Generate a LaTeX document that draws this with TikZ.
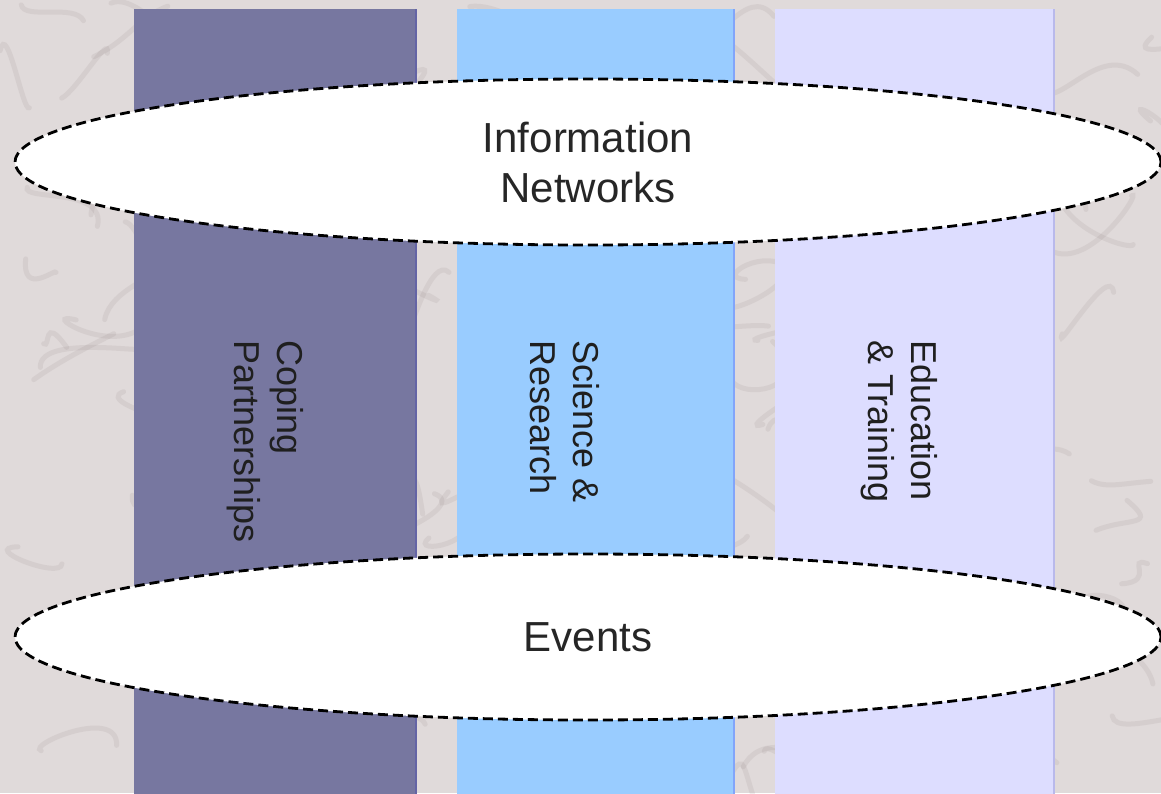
\documentclass[tikz,border=0pt]{standalone}
\usepackage{fontspec}
\setmainfont{Liberation Sans}
\usetikzlibrary{shapes, positioning}

\definecolor{marble}{RGB}{224,218,218}
\definecolor{vein}{RGB}{140,126,128}
\definecolor{coping}{RGB}{119,119,160}
\definecolor{copingedge}{RGB}{100,100,165}
\definecolor{science}{RGB}{153,204,255}
\definecolor{scienceedge}{RGB}{130,165,250}
\definecolor{education}{RGB}{221,221,255}
\definecolor{educationedge}{RGB}{185,185,235}

\tikzset{
  pillar/.style={anchor=north west, minimum height=800pt, inner sep=0pt, outer sep=0pt},
  pillartext/.style={anchor=west, rotate=-90, align=left, inner sep=0pt, text=black!88,
    font=\fontsize{36}{43}\selectfont},
  ring/.style={ellipse, draw=black, fill=white, line width=2.8pt, dash pattern=on 10pt off 5pt,
    minimum width=1146pt, minimum height=166pt, align=center, text=black!85,
    font=\fontsize{42}{50}\selectfont}
}

\begin{document}
\begin{tikzpicture}[x=1pt,y=-1pt]
        \useasboundingbox (0,0) rectangle (1161,793);
        \clip (0,0) rectangle (1161,793);
        % marble background
        \fill[marble] (0,0) rectangle (1161,793);
        \pgfmathsetseed{11}
        \foreach \i in {1,...,140} {
          \pgfmathsetmacro{\vx}{rnd*1161}
          \pgfmathsetmacro{\vy}{rnd*793}
          \draw[vein, line width=5pt, opacity=0.13, line cap=round]
            (\vx,\vy) .. controls +(rand*40,rand*40) and +(rand*40,rand*40) .. +(60+rand*40,rand*60);
        }
        \begin{scope}[every node/.style={pillar}]
          \node[fill=coping, minimum width=282pt] (coping) at (134,9) {};
          \node[fill=science, minimum width=277pt] (science) at (457,9) {};
          \node[fill=education, minimum width=279pt] (education) at (775,9) {};
        \end{scope}
        \draw[copingedge, line width=2pt] (coping.north east) -- (coping.south east);
        \draw[scienceedge, line width=2pt] (science.north east) -- (science.south east);
        \draw[educationedge, line width=2pt] (education.north east) -- (education.south east);
        \begin{scope}[every node/.style={pillartext}]
          \node (copingtext) at (265,340) {Coping\\Partnerships};
          \node (sciencetext) at (565,340) {Science \&\\Research};
          \node (educationtext) at (899,340) {Education\\\& Training};
        \end{scope}
        \node[ring] (networks) at (588,162) {Information\\Networks};
        \node[ring] (events) at (588,637) {Events};
      \end{tikzpicture}
\end{document}
